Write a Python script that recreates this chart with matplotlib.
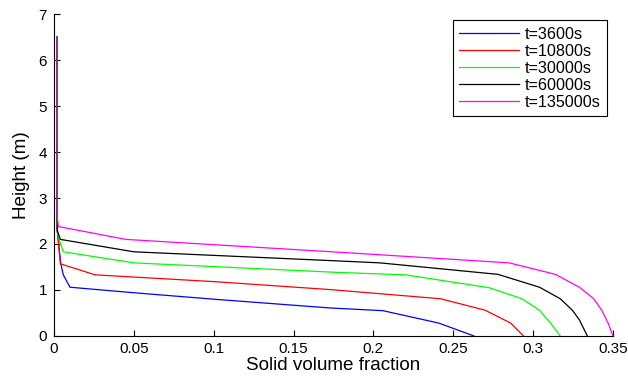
import matplotlib.pyplot as plt

# Profiles of solid volume fraction (x) against height (y)
labels = ["t=3600s", "t=10800s", "t=30000s", "t=60000s", "t=135000s"]
colors = ["#0000ff", "#ff0000", "#00ff00", "#000000", "#ff00ff"]

x_3600 = [0.002, 0.002, 0.0042, 0.0058, 0.010, 0.050, 0.100, 0.1725, 0.206, 0.241, 0.263]
y_3600 = [6.5, 2.3, 1.58, 1.33, 1.06, 0.94, 0.80, 0.61, 0.55, 0.28, 0.0]

x_10800 = [0.002, 0.002, 0.004, 0.0256, 0.101, 0.1725, 0.242, 0.270, 0.286, 0.294]
y_10800 = [6.5, 2.3, 1.57, 1.33, 1.18, 1.01, 0.81, 0.56, 0.28, 0.0]

x_30000 = [0.002, 0.002, 0.0033, 0.0058, 0.050, 0.179, 0.220, 0.2725, 0.293, 0.304, 0.311, 0.317]
y_30000 = [6.5, 2.3, 2.09, 1.83, 1.59, 1.38, 1.33, 1.05, 0.81, 0.56, 0.28, 0.0]

x_60000 = [0.002, 0.002, 0.004, 0.050, 0.179, 0.204, 0.278, 0.304, 0.317, 0.3246, 0.329, 0.334]
y_60000 = [6.5, 2.3, 2.10, 1.83, 1.63, 1.59, 1.34, 1.06, 0.81, 0.56, 0.35, 0.0]

x_135000 = [0.002, 0.002, 0.0027, 0.045, 0.179, 0.285, 0.314, 0.329, 0.338, 0.343, 0.347, 0.350]
y_135000 = [6.5, 2.6, 2.38, 2.10, 1.82, 1.59, 1.34, 1.06, 0.81, 0.56, 0.28, 0.0]

xs = [x_3600, x_10800, x_30000, x_60000, x_135000]
ys = [y_3600, y_10800, y_30000, y_60000, y_135000]

plt.rc("font", family="Liberation Sans", size=11)

fig = plt.figure(figsize=(6.28, 3.79), dpi=100)
ax = fig.add_axes([0.086, 0.1135, 0.89, 0.8495])

for x, y, c, lab in zip(xs, ys, colors, labels):
    ax.plot(x, y, color=c, lw=0.9, label=lab)

ax.set_xlim(0, 0.35)
ax.set_ylim(0, 7)
ax.set_xticks([0, 0.05, 0.1, 0.15, 0.2, 0.25, 0.3, 0.35])
ax.set_xticklabels(["0", "0.05", "0.1", "0.15", "0.2", "0.25", "0.3", "0.35"])
ax.set_yticks(range(8))
ax.tick_params(direction="in", length=4, width=0.8, labelsize=11)
ax.tick_params(axis="x", pad=4)
ax.tick_params(axis="y", pad=5)
ax.spines["top"].set_visible(False)
ax.spines["right"].set_visible(False)
ax.set_xlabel("Solid volume fraction", fontsize=13.6, labelpad=1)
ax.set_ylabel("Height (m)", fontsize=13.6, labelpad=6)

leg = ax.legend(loc="upper right", bbox_to_anchor=(0.99, 0.981), borderaxespad=0,
                fontsize=11.6, fancybox=False, edgecolor="black", framealpha=1,
                handlelength=3.7, labelspacing=0.13, borderpad=0.4, handletextpad=0.4)
leg.get_frame().set_linewidth(0.8)

fig.savefig("out.png", dpi=100)
